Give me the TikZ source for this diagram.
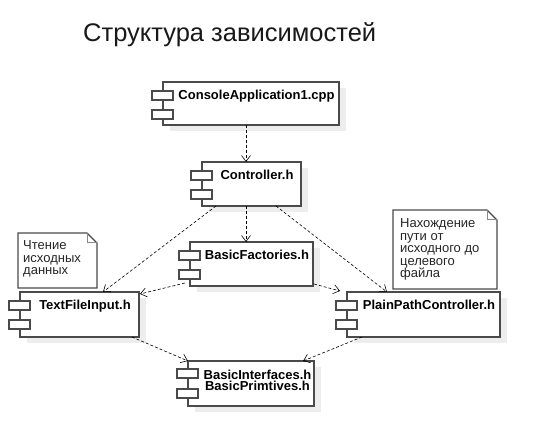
\documentclass[tikz,border=0pt]{standalone}
\usepackage{fontspec}
\setmainfont{Liberation Sans}
\usetikzlibrary{arrows.meta,calc}
\definecolor{boxc}{HTML}{4A4A4A}
\definecolor{shad}{HTML}{EDEDED}
\definecolor{foldc}{HTML}{888888}
\newcommand\tightls{\lineskiplimit -6pt\relax}
\tikzset{
  compbox/.style={draw=boxc, fill=white, line width=1.2pt, rectangle, inner sep=0pt, outer sep=0pt, anchor=north west},
  comptab/.style={draw=boxc, fill=white, line width=1.2pt},
  comptext/.style={font=\fontsize{13}{13}\selectfont\bfseries, inner sep=0pt, anchor=base},
  notebox/.style={draw=boxc, fill=white, line width=1.2pt, line join=miter},
  notetext/.style={font={\fontsize{13}{12.5}\selectfont\tightls}, inner sep=0pt, anchor=north west, align=left, text=black!85},
  dep/.style={draw=black, line width=0.6pt, dash pattern=on 3pt off 2pt, -{Straight Barb[length=6pt,width=9pt,line width=0.6pt]}},
}
\newcommand\compo[6]{%
  \fill[shad] (#2+7,#3+6) rectangle (#4+7,#5+6);
  \node[compbox, minimum width={(#4-#2)*1pt}, minimum height={(#5-#3)*1pt}] (#1) at (#2,#3) {};
  \draw[comptab] (#2-11,#3+9) rectangle (#2+10,#3+18);
  \draw[comptab] (#2-11,#3+28) rectangle (#2+10,#3+37);
  \node[comptext] (#1t) at ({(#2+#4)/2+5.5},#3+17.3) {#6};
}
\begin{document}
\begin{tikzpicture}[x=1pt,y=-1pt]
\useasboundingbox[fill=white] (0,0) rectangle (539,446);
% title
\node[font=\fontsize{25.5}{25.5}\selectfont, inner sep=0pt, anchor=base west, text=black!90] (title) at (83,42) {Структура зависимостей};
% components
\compo{console}{163}{82}{339}{125}{ConsoleApplication1.cpp}
\compo{ctrl}{202}{162}{301}{206}{Controller.h}
\compo{bf}{190}{242}{313}{286}{BasicFactories.h}
\compo{tfi}{20}{292}{139}{337}{TextFileInput.h}
\compo{ppc}{347}{292}{500}{337}{PlainPathController.h}
% bottom component with two lines
\fill[shad] (195,367) rectangle (321,412);
\node[compbox, minimum width=126pt, minimum height=45pt] (bi) at (188,361) {};
\draw[comptab] (177,369) rectangle (198,378);
\draw[comptab] (177,389) rectangle (198,398);
\node[font={\fontsize{13}{11.5}\selectfont\bfseries\tightls}, inner sep=0pt, anchor=north, align=center] (bit) at (257.5,369.6) {BasicInterfaces.h\\BasicPrimtives.h};
% notes
\draw[notebox] (18,233) -- (87,233) -- (97,243) -- (97,288) -- (18,288) -- cycle;
\draw[foldc, line width=1pt] (87,233) -- (87,243) -- (97,243);
\node[notetext] (n1) at (23,240.7) {Чтение\\исходных\\данных};
\draw[notebox] (393,210) -- (487,210) -- (497,220) -- (497,289) -- (393,289) -- cycle;
\draw[foldc, line width=1pt] (487,210) -- (487,220) -- (497,220);
\node[notetext] (n2) at (400,218.7) {Нахождение\\пути от\\исходного до\\целевого\\файла};
% dependencies
\draw[dep] ($(console.south west)+(83,0)$) -- ($(ctrl.north west)+(44,0)$);
\draw[dep] ($(ctrl.south west)+(44,0)$) -- ($(bf.north west)+(56,0)$);
\draw[dep] ($(ctrl.south west)+(14,0)$) -- ($(tfi.north west)+(83,0)$);
\draw[dep] ($(ctrl.south west)+(74,0)$) -- ($(ppc.north west)+(40,0)$);
\draw[dep] ($(bf.south west)+(-5,-3)$) -- ($(tfi.north east)+(1,2)$);
\draw[dep] ($(bf.south east)+(1,-2)$) -- ($(ppc.north west)+(-7,-1)$);
\draw[dep] ($(tfi.south east)+(-7,0)$) -- (bi.north west);
\draw[dep] ($(ppc.south west)+(15,0)$) -- ($(bi.north east)+(-11,0)$);
\end{tikzpicture}
\end{document}
